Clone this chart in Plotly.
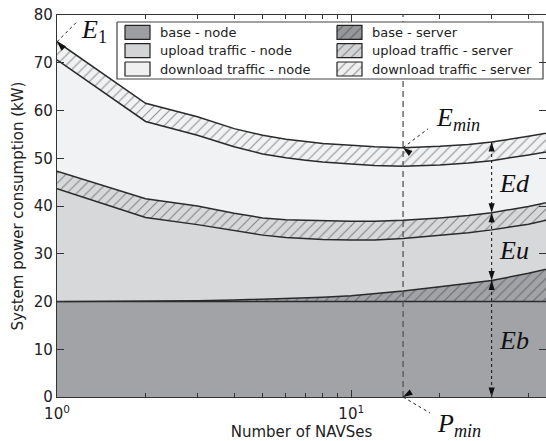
import math
import plotly.graph_objects as go

# ---------------- data ----------------
navses = [1, 2, 3, 4, 5, 6, 7, 8, 10, 12, 15, 20, 25, 30, 40, 50]
base_node = [20.0, 20.0, 20.0, 20.0, 20.0, 20.0, 20.0, 20.0, 20.0, 20.0, 20.0, 20.0, 20.0, 20.0, 20.0, 20.0]
base_server = [0.0, 0.05, 0.15, 0.3, 0.45, 0.6, 0.75, 0.9, 1.2, 1.6, 2.2, 3.1, 3.8, 4.4, 5.9, 7.3]
upload_node = [23.6, 17.55, 15.95, 14.5, 13.45, 12.8, 12.45, 12.1, 11.7, 11.3, 11.0, 10.7, 10.6, 10.6, 10.3, 10.2]
upload_server = [3.7, 3.9, 3.9, 3.7, 3.6, 3.7, 3.8, 3.9, 3.9, 3.9, 3.8, 3.7, 3.6, 3.6, 3.7, 3.7]
download_node = [23.3, 16.2, 14.8, 13.9, 13.4, 13.0, 12.6, 12.3, 12.0, 11.7, 11.3, 11.1, 11.0, 10.9, 10.8, 10.5]
download_server = [3.8, 3.8, 3.9, 3.8, 3.9, 3.9, 3.9, 3.9, 3.9, 3.9, 3.9, 3.9, 3.9, 3.9, 3.9, 3.9]

series_names = ["base - node", "base - server", "upload traffic - node",
                "upload traffic - server", "download traffic - node", "download traffic - server"]
x_pmin = 15      # P_min
x_marks = 30     # position of Ed/Eu/Eb arrows
x_tickvals = [1, 10]
x_ticktext = ["10<sup>0</sup>", "10<sup>1</sup>"]
x_minor = [2, 3, 4, 5, 6, 7, 8, 9, 20, 30, 40]
y_tickvals = [0, 10, 20, 30, 40, 50, 60, 70, 80]

# ---------------- styling ----------------
W, H = 546, 441
ML, MR, MT, MB = 57, 0, 15, 44
PW, PH = W - ML - MR, H - MT - MB
XMAX_LOG = math.log10(45.9)
YMAX = 80
EDGE = "#2a2a2a"

fills = ["#a2a3a7", "#a2a3a7", "#d7d8da", "#d7d8da", "#f1f2f3", "#f1f2f3"]
swatch_fills = ["#9d9ea1", "#96979a", "#d3d4d6", "#d3d4d6", "#f0f0f1", "#f0f0f1"]
hatched = [False, True, False, True, False, True]
layers = [base_node, base_server, upload_node, upload_server, download_node, download_server]

fig = go.Figure()
for name, vals, fc, h in zip(series_names, layers, fills, hatched):
    kw = {}
    if h:
        kw["fillpattern"] = dict(shape="/", fgcolor="#333333", bgcolor=fc, size=7, solidity=0.16)
    fig.add_trace(go.Scatter(
        x=navses, y=vals, name=name, stackgroup="one", mode="lines",
        line=dict(color=EDGE, width=1.5), fillcolor=fc, showlegend=False,
        hoverinfo="skip", **kw))

# cumulative boundaries
def cum(k):
    return [sum(l[i] for l in layers[:k]) for i in range(len(navses))]

top = cum(6)
up_top = cum(4)
bs_top = cum(2)
i_min = navses.index(x_pmin)
i_m = navses.index(x_marks)

# dashed line at P_min
fig.add_trace(go.Scatter(x=[x_pmin, x_pmin], y=[0, YMAX], mode="lines",
                         line=dict(color="#555555", width=1.3, dash="6px,4px"),
                         showlegend=False, hoverinfo="skip"))
# dotted vertical measure line with arrow heads (Ed / Eu / Eb)
fig.add_trace(go.Scatter(x=[x_marks, x_marks], y=[0, top[i_m]], mode="lines",
                         line=dict(color="#111111", width=1, dash="dot"),
                         showlegend=False, hoverinfo="skip"))
fig.add_trace(go.Scatter(
    x=[x_marks] * 6,
    y=[top[i_m], up_top[i_m], up_top[i_m], bs_top[i_m], bs_top[i_m], 0],
    mode="markers", cliponaxis=False,
    marker=dict(symbol="arrow", size=10, angle=[0, 180, 0, 180, 0, 180], color="#111111",
                line=dict(width=0)),
    showlegend=False, hoverinfo="skip"))

shapes = []
annotations = []

def to_paper(xv, yv):
    return math.log10(xv) / XMAX_LOG, yv / YMAX

# dotted diagonal pointers: tail offset given in pixels from the data point
def pointer(xv, yv, dx, dy_up):
    px, py = to_paper(xv, yv)
    shapes.append(dict(type="line", xref="paper", yref="paper",
                       x0=px, y0=py, x1=px + dx / PW, y1=py + dy_up / PH,
                       line=dict(color="#222222", width=1, dash="dot")))
    ang = math.degrees(math.atan2(-dx, dy_up)) % 360  # tail->tip direction, clockwise from up
    fig.add_trace(go.Scatter(x=[xv], y=[yv], mode="markers", cliponaxis=False,
                             marker=dict(symbol="arrow", size=10, angle=ang, color="#111111",
                                         line=dict(width=0)),
                             showlegend=False, hoverinfo="skip"))

pointer(navses[0], top[0], 21, 21)
pointer(x_pmin, top[i_min], 25, 19)
pointer(x_pmin, 0, 27, -16)

def px2paper(px, py):
    return (px - ML) / PW, 1 - (py - MT) / PH

serif = dict(family="Liberation Serif", size=26, color="#111111")
for txt, (px, py) in [("<i>E</i><sub>1</sub>", (94, 31)),
                      ("<i>E</i><sub><i>min</i></sub>", (458, 119)),
                      ("<i>P</i><sub><i>min</i></sub>", (459, 425)),
                      ("<i>Ed</i>", (514, 183)),
                      ("<i>Eu</i>", (514, 250)),
                      ("<i>Eb</i>", (514, 340))]:
    xp, yp = px2paper(px, py)
    annotations.append(dict(x=xp, y=yp, xref="paper", yref="paper", text=txt, showarrow=False,
                            font=serif, xanchor="center", yanchor="middle"))

# ---------------- manual legend (overlay axes in pixel units) ----------------
LX0, LX1, LY0, LY1 = 117, 543, 22, 79
fig.add_trace(go.Scatter(x=[LX0, LX1, LX1, LX0, LX0], y=[LY0, LY0, LY1, LY1, LY0],
                         xaxis="x2", yaxis="y2", mode="lines", fill="toself",
                         fillcolor="white", line=dict(color="#444444", width=1.2),
                         showlegend=False, hoverinfo="skip"))
col_x = [125, 337]
row_y = [32.3, 50.6, 69.0]
for k, name in enumerate(series_names):
    col = k % 2
    row = k // 2
    sx0 = col_x[col]
    sx1 = sx0 + 25
    cy = row_y[row]
    sy0, sy1 = cy - 7, cy + 7
    kw = {}
    if hatched[k]:
        kw["fillpattern"] = dict(shape="/", fgcolor="#333333", bgcolor=swatch_fills[k], size=7, solidity=0.16)
    fig.add_trace(go.Scatter(x=[sx0, sx1, sx1, sx0, sx0], y=[sy0, sy0, sy1, sy1, sy0],
                             xaxis="x2", yaxis="y2", mode="lines", fill="toself",
                             fillcolor=swatch_fills[k], line=dict(color="#222222", width=1.2),
                             showlegend=False, hoverinfo="skip", **kw))
    annotations.append(dict(x=sx1 + 8, y=cy, xref="x2", yref="y2", text=name, showarrow=False,
                            xanchor="left", yanchor="middle",
                            font=dict(family="DejaVu Sans", size=13, color="#222222")))

axis_common = dict(showline=True, linecolor="#333333", linewidth=1.3, mirror="ticks",
                   ticks="inside", ticklen=7, tickwidth=1, tickcolor="#333333",
                   showgrid=False, zeroline=False,
                   tickfont=dict(family="DejaVu Sans", size=15, color="#222222"))

fig.update_layout(
    width=W, height=H,
    margin=dict(l=ML, r=MR, t=MT, b=MB),
    paper_bgcolor="white", plot_bgcolor="white",
    showlegend=False,
    xaxis=dict(type="log", range=[0, XMAX_LOG], tickvals=x_tickvals, ticktext=x_ticktext,
               minor=dict(tickvals=x_minor, ticks="inside", ticklen=4, tickcolor="#333333"),
               ticklabelstandoff=3,
               title=dict(text="Number of NAVSes", standoff=6,
                          font=dict(family="DejaVu Sans", size=15, color="#222222")),
               **axis_common),
    yaxis=dict(range=[0, YMAX], tickvals=y_tickvals,
               title=dict(text="System power consumption (kW)", standoff=6,
                          font=dict(family="DejaVu Sans", size=15, color="#222222")),
               **axis_common),
    xaxis2=dict(overlaying="x", range=[ML, W - MR], visible=False, fixedrange=True),
    yaxis2=dict(overlaying="y", range=[H - MB, MT], visible=False, fixedrange=True),
    annotations=annotations,
    shapes=shapes,
)

fig.write_html("out.html")
